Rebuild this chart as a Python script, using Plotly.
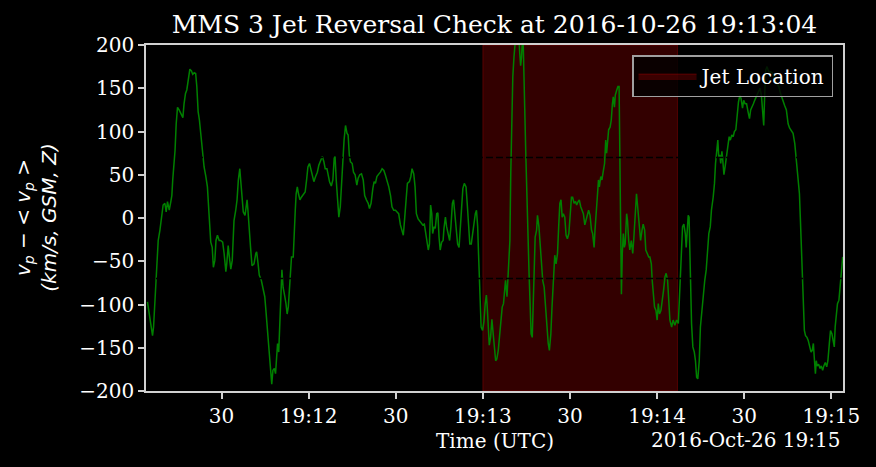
import pandas as pd
import plotly.graph_objects as go

# seconds after 19:11:00 UTC and the proton velocity minus its mean (km/s)
base_time = pd.Timestamp("2016-10-26 19:11:00")

t_sec = [
    4.5, 5.1, 5.7, 6.25, 6.6, 7.05, 7.6, 8.2, 8.8, 9.3,
    9.9, 10.5, 10.95, 11.4, 12.0, 12.55, 12.9, 13.2, 13.7, 14.0,
    14.4, 14.85, 15.4, 16.0, 16.7, 17.1, 17.6, 18.05, 18.6, 19.1,
    19.65, 20.1, 20.6, 21.1, 21.5, 21.95, 22.4, 22.85, 23.4, 24.0,
    24.6, 25.15, 25.7, 26.3, 26.8, 27.2, 27.7, 28.1, 28.6, 29.2,
    29.7, 30.4, 30.9, 31.5, 31.8, 32.3, 32.7, 33.2, 33.7, 34.3,
    34.9, 35.35, 35.8, 36.3, 36.6, 37.1, 37.5, 38.1, 38.4, 38.8,
    39.1, 39.6, 40.0, 40.5, 41.2, 41.8, 42.1, 42.6, 43.0, 43.7,
    44.3, 44.9, 45.2, 45.7, 46.1, 46.6, 46.9, 47.3, 47.7, 48.2,
    48.6, 49.0, 49.3, 49.7, 50.1, 50.5, 50.8, 51.2, 51.5, 51.8,
    52.2, 52.6, 53.0, 53.4, 53.8, 54.1, 54.7, 55.05, 55.4, 55.7,
    56.1, 56.5, 57.0, 57.5, 57.9, 58.4, 58.8, 59.3, 59.75, 60.3,
    60.8, 61.2, 61.8, 62.4, 63.0,
    63.5, 64.1, 64.7, 65.25, 65.7, 66.3, 66.7, 67.2, 67.8, 68.35,
    68.8, 69.1, 69.5, 70.0, 70.4, 70.9, 71.3, 71.8, 72.2, 72.7,
    73.2, 73.6, 74.0, 74.4, 75.0, 75.45, 76.0, 76.6, 77.05, 77.6,
    78.2, 78.8, 79.3, 79.9, 80.5, 80.95, 81.5, 82.1, 82.55, 83.0,
    83.5, 84.2, 84.7, 85.3, 85.9, 86.4, 87.0, 87.6, 88.2, 88.7,
    89.3, 89.9, 90.45, 91.0, 91.6, 92.2, 92.6, 93.1, 93.5, 94.0,
    94.7, 95.2, 95.6, 96.2, 96.65, 97.1, 97.7, 98.25, 98.8, 99.3,
    99.85, 100.3, 100.8, 101.2, 101.6, 102.0, 102.4, 102.7, 103.2, 103.6,
    104.1, 104.5, 104.9, 105.3, 105.8, 106.3, 106.6, 107.1, 107.5, 108.0,
    108.55, 109.0, 109.5, 109.9, 110.4, 110.9, 111.3, 111.8, 112.2, 112.7,
    113.1, 113.6, 114.2, 114.6, 115.1, 115.5, 116.0, 116.5, 116.9, 117.4,
    117.8, 118.2, 118.5, 118.9, 119.1, 119.4, 119.9, 120.35, 120.8, 121.2,
    121.5, 121.85, 122.2, 122.65,
    123.1, 123.45, 123.9, 124.4, 124.8, 125.3, 125.7, 126.2, 126.65, 127.1,
    127.45, 127.8, 128.3, 128.6, 128.95, 129.3, 129.6, 130.0, 130.3, 130.7,
    131.0, 131.4, 131.9, 132.4, 132.7, 133.0, 133.3, 133.6, 133.9, 134.1,
    134.4, 134.8, 135.1, 135.5, 135.9, 136.3, 136.6, 137.0, 137.3, 137.7,
    138.0, 138.5, 138.8, 139.3, 139.7, 140.2, 140.6, 141.1, 141.6, 142.0,
    142.5, 142.9, 143.4, 143.8, 144.3, 144.75, 145.2, 145.7, 146.1, 146.5,
    146.9, 147.3, 147.7, 148.2, 148.65, 149.1, 149.6, 150.0, 150.5, 150.9,
    151.4, 151.9, 152.3, 152.8, 153.2, 153.7, 154.1, 154.6, 155.1, 155.5,
    156.0, 156.4, 156.9, 157.4, 157.8, 158.3, 158.6, 158.95, 159.4, 159.8,
    160.1, 160.6, 161.0, 161.5, 161.9, 162.3, 162.6, 163.0, 163.3, 163.8,
    164.2, 164.6, 164.9, 165.3, 165.6, 166.1, 166.5, 166.9, 167.1, 167.45,
    167.7, 168.0, 168.35, 168.7, 169.0, 169.5, 169.8, 170.2, 170.6, 171.1,
    171.6, 172.0, 172.5, 172.9, 173.4, 173.9, 174.3, 174.8, 175.2, 175.7,
    176.1, 176.6, 177.1, 177.5, 178.0, 178.3, 178.7, 179.1, 179.6, 180.0,
    180.4, 180.8, 181.3, 181.7, 182.2, 182.7, 183.1, 183.6, 184.0, 184.4,
    185.0, 185.5, 186.1, 186.7,
    187.3, 187.8, 188.4, 188.75, 189.2, 189.7, 190.0, 190.4, 190.7, 191.0,
    191.4, 191.85, 192.3, 192.8, 193.2, 193.6, 194.0, 194.5, 194.9, 195.4,
    195.85, 196.4, 196.9, 197.3, 197.8, 198.3, 198.7, 199.3, 199.75, 200.1,
    200.55, 200.9, 201.2, 201.6, 201.9, 202.3, 202.6, 203.0, 203.4, 203.9,
    204.3, 204.8, 205.2, 205.7, 206.2, 206.6, 207.1, 207.5, 208.0, 208.5,
    208.9, 209.4, 209.8, 210.3, 210.8, 211.3, 211.8, 212.2, 212.7, 213.15,
    213.6, 214.1, 214.5, 215.0, 215.4, 215.9, 216.4, 216.7, 217.05, 217.4,
    217.85, 218.4, 219.1, 219.8, 220.5, 221.2, 221.9, 222.5, 223.2, 223.9,
    224.5, 225.1, 225.6, 226.2, 226.8, 227.4, 227.9, 228.5, 229.0, 229.3,
    229.65, 230.0, 230.3, 230.7, 231.1, 231.6, 232.05, 232.5, 233.0, 233.4,
    233.8, 234.1, 234.5, 234.8, 235.1, 235.6, 236.1, 236.5, 237.0, 237.4,
    237.9, 238.4, 238.8, 239.3, 239.7, 240.2, 240.6, 241.0, 241.3, 241.7,
    242.1, 242.6, 243.05, 243.5, 243.9,
]

v_p = [
    -97, -111, -126, -136, -126, -99, -60, -26, -14, 1,
    15, 17, 7, 19, 9, 19, 26, 44, 63, 78,
    109, 128, 125, 121, 116, 132, 144, 148, 161, 172,
    170, 166, 168, 167, 152, 123, 113, 96, 78, 59,
    48, 36, 5, -28, -34, -57, -49, -26, -20, -26,
    -26, -28, -41, -62, -53, -32, -45, -59, -49, -3,
    9, 21, 44, 57, 44, 28, 7, 3, 13, 21,
    9, -10, -34, -55, -53, -41, -39, -53, -66, -72,
    -80, -91, -103, -126, -142, -165, -180, -192, -176, -174,
    -180, -157, -145, -155, -115, -84, -60, -80, -88, -91,
    -99, -111, -103, -84, -57, -45, -45, -3, 9, 28,
    36, 28, 21, 24, 26, 28, 30, 44, 59, 63,
    55, 48, 42, 48, 53,
    61, 67, 71, 65, 57, 57, 51, 42, 37, 44,
    69, 71, 44, 21, 1, 13, 40, 63, 90, 107,
    98, 96, 73, 65, 63, 53, 50, 38, 46, 50,
    51, 44, 26, 21, 17, 11, 17, 34, 42, 40,
    48, 51, 53, 57, 55, 50, 44, 36, 26, 13,
    9, 9, 7, 5, -8, -16, -20, 1, 24, 40,
    42, 48, 57, 51, 36, 5, -1, -3, -5, -8,
    -7, -16, -26, -37, -30, 15, 5, -18, -10, -12,
    5, 6, -22, -37, -28, -26, -12, 1, -10, -18,
    -26, -10, 17, 21, -1, -18, -30, -34, -10, 17,
    34, 40, 36, 17, -10, -30, -30, -16, -5, 5,
    9, -10, -41, -72, -103, -126, -130, -120, -99, -89,
    -103, -134, -147, -138,
    -117, -130, -149, -165, -163, -153, -138, -122, -103, -99,
    -80, -72, -91, -72, -60, -26, 51, 128, 163, 186,
    200, 214, 220, 208, 190, 176, 186, 205, 200, 179,
    128, 71, 24, -26, -64, -103, -134, -138, -103, -57,
    -22, -14, 3, -10, -30, -57, -72, -80, -103, -130,
    -145, -153, -134, -103, -76, -43, -53, -41, -10, 17,
    21, 1, 5, 1, -20, -24, -18, 5, 24, 24,
    17, 19, 15, 19, 21, 13, 9, 5, -8, -3,
    5, 9, 3, -14, -18, -34, -14, 9, 24, 44,
    36, 48, 44, 55, 63, 90, 75, 90, 102, 105,
    113, 132, 140, 128, 142, 148, 152, 152, 71, -26,
    -88, -41, -18, -34, -30, 5, -3, -26, -37, -26,
    -41, -22, 13, 28, 9, -14, -26, -14, -7, -14,
    -37, -41, -45, -45, -53, -72, -88, -103, -107, -118,
    -99, -111, -107, -99, -84, -68, -64, -72, -95, -118,
    -126, -118, -124, -118,
    -122, -88, -45, -10, -7, -18, -34, -10, 3, 1,
    -64, -122, -149, -155, -165, -184, -186, -165, -126, -107,
    -88, -72, -60, -37, -18, -10, 9, 24, 40, 63,
    75, 90, 71, 73, 63, 77, 67, 50, 59, 71,
    78, 94, 90, 96, 94, 100, 102, 117, 134, 142,
    138, 127, 136, 132, 132, 123, 115, 125, 128, 132,
    136, 140, 144, 148, 150, 142, 121, 107, 144, 171,
    175, 169, 169, 167, 159, 156, 152, 144, 136, 130,
    125, 109, 104, 101, 98, 86, 67, 44, 28, 1,
    -34, -68, -103, -130, -136, -138, -142, -149, -155, -153,
    -145, -161, -180, -165, -171, -169, -174, -171, -176, -171,
    -167, -172, -165, -145, -130, -134, -142, -149, -126, -111,
    -99, -95, -80, -57, -45,
]

assert len(t_sec) == len(v_p)

jet_start = "2016-10-26 19:13:00"
jet_end = "2016-10-26 19:14:07"
x_range = ["2016-10-26 19:11:04", "2016-10-26 19:15:04"]
y_range = [-200, 200]
reversal_levels = [70, -70]

x_tick_times = ["2016-10-26 19:11:30", "2016-10-26 19:12:00", "2016-10-26 19:12:30",
                "2016-10-26 19:13:00", "2016-10-26 19:13:30", "2016-10-26 19:14:00",
                "2016-10-26 19:14:30", "2016-10-26 19:15:00"]
x_tick_text = ["30", "19:12", "30", "19:13", "30", "19:14", "30", "19:15"]
y_tick_vals = [-200, -150, -100, -50, 0, 50, 100, 150, 200]
y_tick_text = [str(v).replace("-", "\u2212") for v in y_tick_vals]

times = base_time + pd.to_timedelta(t_sec, unit="s")

axis_color = "#d0d0d0"
fig = go.Figure()

# jet interval (drawn as a filled trace so it shows up in the legend)
fig.add_trace(go.Scatter(
    x=[jet_start, jet_start, jet_end, jet_end, jet_start],
    y=[y_range[0], y_range[1], y_range[1], y_range[0], y_range[0]],
    mode="lines", fill="toself",
    fillcolor="rgba(255,0,0,0.2)",
    line=dict(color="rgba(255,0,0,0.25)", width=1),
    name="Jet Location", hoverinfo="skip",
))

fig.add_trace(go.Scatter(
    x=times, y=v_p, mode="lines",
    line=dict(color="green", width=1.5),
    showlegend=False,
))

for lvl in reversal_levels:
    fig.add_shape(type="line", xref="paper", x0=0, x1=1, yref="y", y0=lvl, y1=lvl,
                  line=dict(color="black", width=1.5, dash="7px,3px"), layer="above")

axis_style = dict(showline=True, linecolor=axis_color, linewidth=1.5, mirror=True,
                  ticks="outside", ticklen=6, tickwidth=1.5, tickcolor=axis_color,
                  showgrid=False, zeroline=False, tickfont=dict(size=20, color="white"))

fig.update_layout(
    width=876, height=467,
    paper_bgcolor="black", plot_bgcolor="black",
    margin=dict(l=146, r=33, t=45, b=76),
    font=dict(family="DejaVu Serif", color="white", size=20),
    title=dict(text="MMS 3 Jet Reversal Check at 2016-10-26 19:13:04",
               x=0.5, xref="paper", xanchor="center",
               y=1 - 24 / 467, yref="container", yanchor="middle",
               font=dict(size=25, color="white")),
    xaxis=dict(type="date", range=x_range, tickvals=x_tick_times, ticktext=x_tick_text,
               **axis_style),
    yaxis=dict(range=y_range, tickvals=y_tick_vals, ticktext=y_tick_text, **axis_style),
    legend=dict(x=0.9857, xanchor="right", y=0.971, yanchor="top",
                bgcolor="rgba(0,0,0,0.8)", bordercolor="#a0a0a0", borderwidth=1.5,
                itemwidth=58, font=dict(size=20, color="white")),
    showlegend=True,
)

fig.add_annotation(
    text="<i>v</i><sub><i>p</i></sub> \u2212 &lt; <i>v</i><sub><i>p</i></sub> &gt;<br>"
         "<i>(km/s, GSM, Z)</i>",
    xref="paper", yref="paper", x=-0.197, y=0.5, textangle=-90,
    showarrow=False, font=dict(family="DejaVu Sans", size=20, color="white"),
)
fig.add_annotation(text="Time (UTC)", xref="paper", yref="paper", x=0.5, y=-0.1445,
                   yanchor="middle", showarrow=False, font=dict(size=20, color="white"))
fig.add_annotation(text="2016-Oct-26 19:15", xref="paper", yref="paper", x=1.0, y=-0.142,
                   xanchor="right", yanchor="middle", showarrow=False,
                   font=dict(size=20, color="white"))

# the page's default body margin would push the figure 8px right and down
fig.write_html("out.html", config={"displayModeBar": False},
               post_script="document.body.style.margin='0px';")
